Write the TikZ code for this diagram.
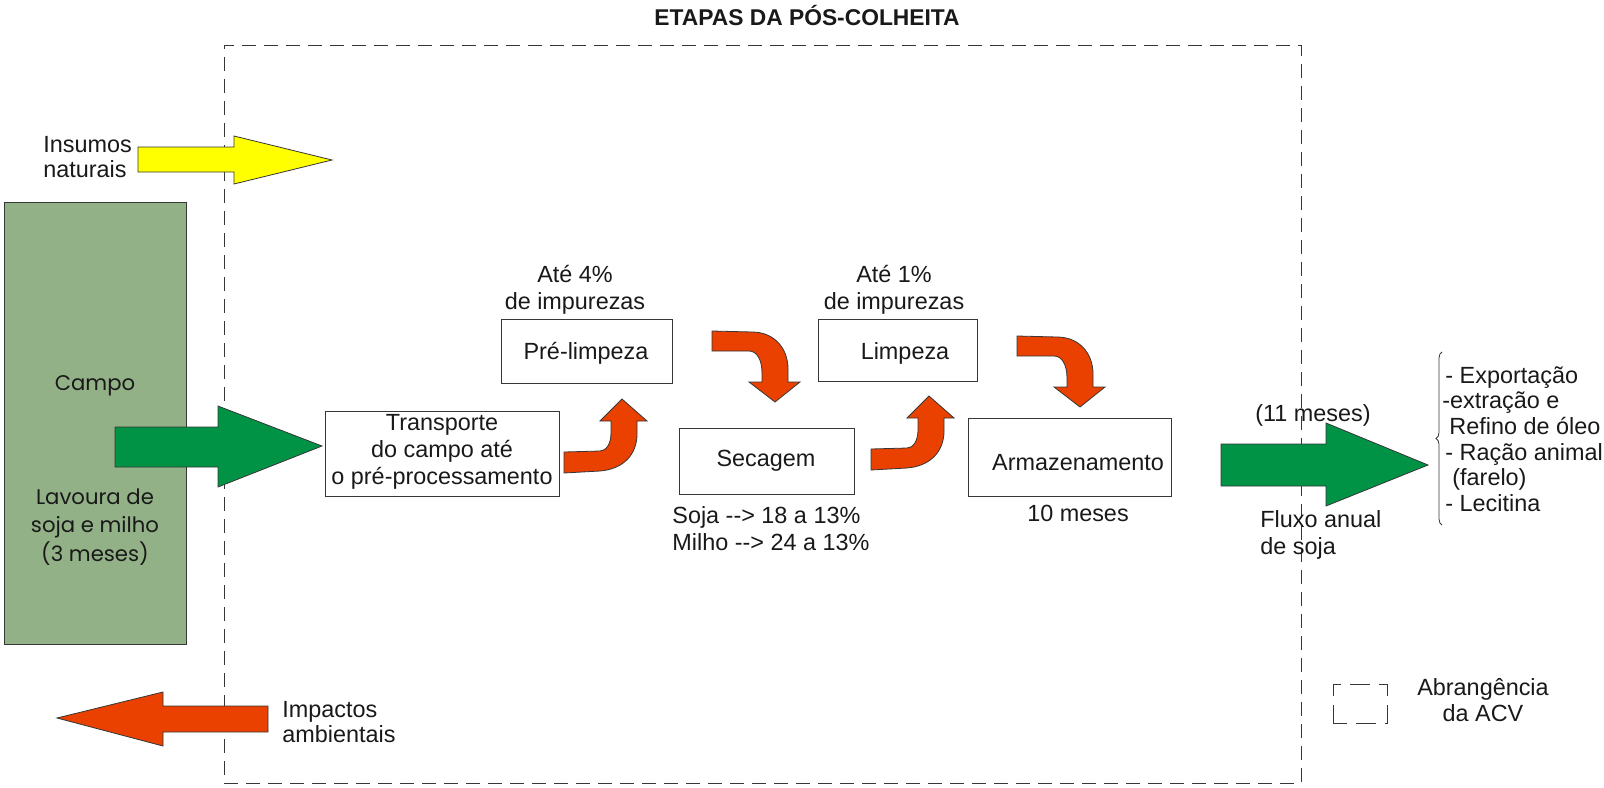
\documentclass[tikz,border=0pt]{standalone}
\usepackage{fontspec}
\setmainfont{Liberation Sans}
\newfontfamily\campofont{Poppins}
\usetikzlibrary{decorations.pathreplacing}
\definecolor{verdeCampo}{RGB}{147,177,135}
\definecolor{verdeSeta}{RGB}{0,146,69}
\definecolor{laranja}{RGB}{234,64,0}
\definecolor{amarelo}{RGB}{255,255,0}
\definecolor{contorno}{RGB}{55,55,55}
\definecolor{texto}{RGB}{25,25,25}

\begin{document}
\begin{tikzpicture}[x=0.5pt,y=-0.5pt]
\useasboundingbox (0,0) rectangle (1604,787);
\tikzset{TextoStyle/.style = {font = \fontsize{11.7}{13.6}\selectfont, text = texto, inner sep = 0pt, align = center}}
\tikzset{CaixaStyle/.style = {shape = rectangle, draw = contorno, line width = 0.5pt, inner sep = 0pt, outer sep = 0pt}}
\tikzset{QuadroStyle/.style = {shape = rectangle, draw = contorno, line width = 0.5pt, dash pattern = on 7pt off 4pt, inner sep = 0pt}}

% moldura da ACV
   \node[QuadroStyle, minimum width = 538.5pt, minimum height = 369pt] (quadro) at (762.5,414) {};
   \node[TextoStyle, font = \bfseries\fontsize{11.4}{13}\selectfont] (titulo) at (807,16) {ETAPAS DA PÓS-COLHEITA};

% campo
   \node[CaixaStyle, fill = verdeCampo, minimum width = 91pt, minimum height = 221pt] (campo) at (95,423) {};
   \node[TextoStyle, font = \campofont\fontsize{10.6}{14.2}\selectfont] (campoT) at (95,386) {Campo};
   \node[TextoStyle, font = \campofont\fontsize{10.6}{14.2}\selectfont] (lavoura) at (95,527) {Lavoura de\\soja e milho\\(3 meses)};

% etapas
   \node[CaixaStyle, minimum width = 117pt, minimum height = 42.5pt] (transp) at (442,453.5) {};
   \node[CaixaStyle, minimum width = 85.5pt, minimum height = 32pt] (prelimp) at (586.5,351) {};
   \node[CaixaStyle, minimum width = 87.5pt, minimum height = 33pt] (secag) at (766.5,461) {};
   \node[CaixaStyle, minimum width = 79.5pt, minimum height = 31pt] (limp) at (897.5,350) {};
   \node[CaixaStyle, minimum width = 101.5pt, minimum height = 39pt] (armaz) at (1069.5,457) {};

   \node[TextoStyle] (transpT) at (442,452) {Transporte\\do campo até\\o pré-processamento};
   \node[TextoStyle] (prelimpT) at (586,353) {Pré-limpeza};
   \node[TextoStyle] (secagT) at (766,461) {Secagem};
   \node[TextoStyle] (limpT) at (905,353) {Limpeza};
   \node[TextoStyle] (armazT) at (1078,463) {Armazenamento};

   \node[TextoStyle] (ate4) at (575,290) {Até 4\%\\de impurezas};
   \node[TextoStyle] (ate1) at (894,290) {Até 1\%\\de impurezas};
   \node[TextoStyle, anchor = west, align = left] (umidade) at (672,528.5) {Soja {-}{-}> 18 a 13\%\\Milho {-}{-}> 24 a 13\%};
   \node[TextoStyle] (dezmeses) at (1078,513) {10 meses};

% entradas e saidas
   \node[TextoStyle, anchor = west, align = left, font = \fontsize{11.7}{12.5}\selectfont] (insumos) at (43,157.5) {Insumos\\naturais};
   \node[TextoStyle, anchor = west, align = left, font = \fontsize{11.7}{12.5}\selectfont] (impactos) at (282,722) {Impactos\\ambientais};
   \node[TextoStyle] (onzemeses) at (1313,415) {(11 meses)};
   \node[TextoStyle, anchor = west, align = left] (fluxo) at (1260,535) {Fluxo anual\\de soja};
   \node[TextoStyle, anchor = west, align = left, font = \fontsize{11.7}{12.8}\selectfont] (destinos) at (1442,439)
      {\hspace*{1.5pt}- Exportação\\-extração e\\\hspace*{3.5pt}Refino de óleo\\\hspace*{1.5pt}- Ração animal\\\hspace*{5pt}(farelo)\\\hspace*{1.5pt}- Lecitina};
   \coordinate (chaveB) at (1442,525);
   \coordinate (chaveA) at (1442,352);
   \draw[contorno, line width = 0.4pt, decorate, decoration = {brace, amplitude = 3pt}] (chaveB) -- (chaveA);

% legenda
   \node[CaixaStyle, dash pattern = on 10pt off 4.5pt, dash phase = 3pt, minimum width = 27pt, minimum height = 19.5pt] (legenda) at (1360,703.5) {};
   \node[TextoStyle, font = \fontsize{11.7}{13}\selectfont] (abrang) at (1483,700) {Abrangência\\da ACV};

% setas retas
\tikzset{SetaStyle/.style = {draw = contorno, line width = 0.4pt, line join = miter}}
   \filldraw[SetaStyle, fill = amarelo] (138,147) -- (234,147) -- (234,136) -- (332,160) -- (234,184) -- (234,172) -- (138,172) -- cycle;
   \filldraw[SetaStyle, fill = verdeSeta] (115,427) -- (218,427) -- (218,406) -- (322,446) -- (218,487) -- (218,467) -- (115,467) -- cycle;
   \filldraw[SetaStyle, fill = laranja] (268,706) -- (163,706) -- (163,692) -- (57,718) -- (163,746) -- (163,732) -- (268,732) -- cycle;
   \filldraw[SetaStyle, fill = verdeSeta] (1221,444) -- (1326,444) -- (1326,423) -- (1428,465) -- (1326,506) -- (1326,486) -- (1221,486) -- cycle;

% setas curvas
\tikzset{SetaStyle/.style = {draw = contorno, fill = laranja, line width = 0.4pt}}
   \filldraw[SetaStyle, shift = {(564,452)}] (0,0) -- (0,21) -- (36,19) .. controls (60,17) and (73,2) .. (73,-18) -- (73,-31) -- (83,-31) -- (58,-53) -- (36,-31) -- (47,-31) -- (47,-19) .. controls (47,-8) and (42,-1) .. (36,-1) -- cycle;
   \filldraw[SetaStyle, shift = {(871,449)}] (0,0) -- (0,21) -- (36,19) .. controls (60,17) and (73,2) .. (73,-18) -- (73,-31) -- (83,-31) -- (58,-53) -- (36,-31) -- (47,-31) -- (47,-19) .. controls (47,-8) and (42,-1) .. (36,-1) -- cycle;
   \filldraw[SetaStyle, shift = {(712,331)}] (0,0) -- (40,1) .. controls (62,1) and (76,17) .. (76,38) -- (76,51) -- (88,51) -- (63,71) -- (37,51) -- (50,51) -- (50,42) .. controls (50,29) and (45,20) .. (37,20) -- (0,20) -- cycle;
   \filldraw[SetaStyle, shift = {(1017,336)}] (0,0) -- (40,1) .. controls (62,1) and (76,17) .. (76,38) -- (76,51) -- (88,51) -- (63,71) -- (37,51) -- (50,51) -- (50,42) .. controls (50,29) and (45,20) .. (37,20) -- (0,20) -- cycle;

%\draw[help lines] (0,0) grid (1604,787);
\end{tikzpicture}
\end{document}
